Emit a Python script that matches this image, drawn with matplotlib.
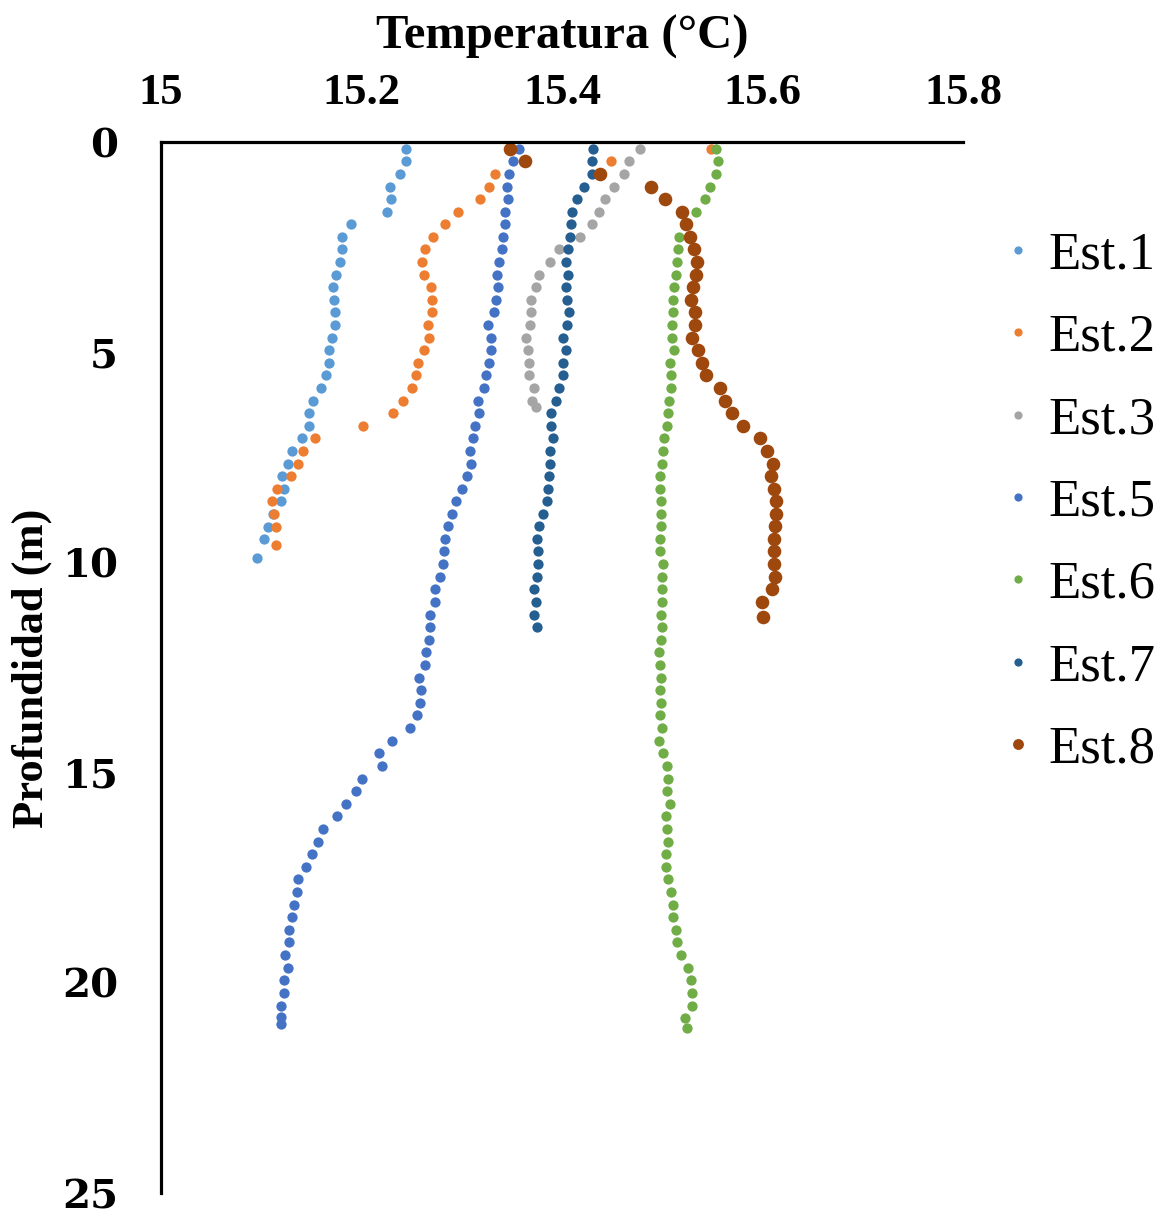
import matplotlib
matplotlib.use("Agg")
import matplotlib.pyplot as plt

# ---- data: depth (m) and temperature (°C) per station ----
est1_depth = [0.17, 0.46, 0.76, 1.06, 1.36, 1.66, 1.96, 2.25, 2.55, 2.86, 3.16, 3.45, 3.75, 4.05,
              4.35, 4.65, 4.95, 5.25, 5.55, 5.85, 6.15, 6.45, 6.75, 7.05, 7.35, 7.65, 7.95, 8.25,
              8.54, 8.84, 9.15, 9.45, 9.89]
est1_temp = [15.244, 15.244, 15.238, 15.228, 15.229, 15.225, 15.189, 15.181, 15.181, 15.179, 15.175,
             15.172, 15.173, 15.174, 15.174, 15.171, 15.168, 15.168, 15.165, 15.160, 15.152, 15.148,
             15.148, 15.141, 15.131, 15.127, 15.121, 15.123, 15.120, 15.112, 15.107, 15.103, 15.096]

est2_depth = [0.17, 0.46, 0.76, 1.06, 1.36, 1.66, 1.96, 2.25, 2.55, 2.86, 3.16, 3.45, 3.75, 4.05,
              4.35, 4.65, 4.95, 5.25, 5.55, 5.85, 6.15, 6.45, 6.75, 7.05, 7.35, 7.65, 7.95, 8.25,
              8.54, 8.84, 9.15, 9.58]
est2_temp = [15.549, 15.449, 15.333, 15.327, 15.318, 15.296, 15.283, 15.271, 15.263, 15.260, 15.262,
             15.269, 15.270, 15.270, 15.266, 15.267, 15.262, 15.256, 15.254, 15.250, 15.241, 15.231,
             15.201, 15.154, 15.142, 15.137, 15.130, 15.116, 15.111, 15.113, 15.115, 15.115]

est3_depth = [0.17, 0.46, 0.76, 1.06, 1.36, 1.66, 1.96, 2.25, 2.55, 2.86, 3.16, 3.45, 3.75, 4.05,
              4.35, 4.65, 4.95, 5.25, 5.55, 5.85, 6.15, 6.31]
est3_temp = [15.478, 15.467, 15.462, 15.452, 15.443, 15.437, 15.430, 15.418, 15.397, 15.388, 15.377,
             15.374, 15.369, 15.369, 15.368, 15.364, 15.366, 15.367, 15.367, 15.372, 15.370, 15.374]

est5_depth = [0.17, 0.46, 0.76, 1.06, 1.36, 1.66, 1.96, 2.25, 2.55, 2.86, 3.16, 3.45, 3.75, 4.05,
              4.35, 4.65, 4.95, 5.25, 5.55, 5.85, 6.15, 6.45, 6.75, 7.05, 7.35, 7.65, 7.95, 8.25,
              8.54, 8.84, 9.14, 9.44, 9.74, 10.04, 10.34, 10.64, 10.94, 11.24, 11.54, 11.84, 12.14,
              12.44, 12.74, 13.04, 13.34, 13.64, 13.94, 14.24, 14.54, 14.84, 15.14, 15.44, 15.74,
              16.04, 16.34, 16.64, 16.94, 17.24, 17.54, 17.84, 18.14, 18.44, 18.74, 19.04, 19.34,
              19.64, 19.94, 20.24, 20.54, 20.81, 20.98]
est5_temp = [15.357, 15.351, 15.347, 15.345, 15.346, 15.343, 15.343, 15.341, 15.340, 15.337, 15.335,
             15.336, 15.334, 15.332, 15.326, 15.329, 15.329, 15.327, 15.324, 15.322, 15.316, 15.317,
             15.313, 15.311, 15.308, 15.309, 15.305, 15.300, 15.294, 15.290, 15.286, 15.283, 15.282,
             15.281, 15.278, 15.273, 15.273, 15.268, 15.268, 15.267, 15.264, 15.263, 15.257, 15.259,
             15.258, 15.255, 15.248, 15.230, 15.217, 15.220, 15.200, 15.194, 15.185, 15.176, 15.162,
             15.157, 15.151, 15.145, 15.137, 15.136, 15.133, 15.131, 15.128, 15.128, 15.124, 15.127,
             15.123, 15.123, 15.120, 15.120, 15.120]

est6_depth = [0.17, 0.46, 0.76, 1.06, 1.36, 1.66, 1.96, 2.25, 2.55, 2.86, 3.16, 3.45, 3.75, 4.05,
              4.35, 4.65, 4.95, 5.25, 5.55, 5.85, 6.15, 6.45, 6.75, 7.05, 7.35, 7.65, 7.95, 8.25,
              8.54, 8.84, 9.14, 9.44, 9.74, 10.04, 10.34, 10.64, 10.94, 11.24, 11.54, 11.84, 12.14,
              12.44, 12.74, 13.04, 13.34, 13.64, 13.94, 14.24, 14.54, 14.84, 15.14, 15.44, 15.74,
              16.04, 16.34, 16.64, 16.94, 17.24, 17.54, 17.84, 18.14, 18.44, 18.74, 19.04, 19.34,
              19.64, 19.94, 20.24, 20.54, 20.84, 21.07]
est6_temp = [15.554, 15.556, 15.554, 15.548, 15.543, 15.534, 15.524, 15.517, 15.516, 15.515, 15.514,
             15.512, 15.511, 15.511, 15.510, 15.510, 15.512, 15.508, 15.509, 15.509, 15.507, 15.506,
             15.505, 15.502, 15.501, 15.500, 15.498, 15.498, 15.499, 15.499, 15.499, 15.498, 15.498,
             15.501, 15.500, 15.500, 15.500, 15.499, 15.500, 15.499, 15.497, 15.498, 15.499, 15.498,
             15.499, 15.498, 15.500, 15.497, 15.501, 15.505, 15.506, 15.505, 15.508, 15.504, 15.505,
             15.506, 15.504, 15.504, 15.506, 15.509, 15.511, 15.511, 15.514, 15.515, 15.519, 15.526,
             15.529, 15.530, 15.530, 15.523, 15.525]

est7_depth = [0.17, 0.46, 0.76, 1.06, 1.36, 1.66, 1.96, 2.25, 2.55, 2.86, 3.16, 3.45, 3.75, 4.05,
              4.35, 4.65, 4.95, 5.25, 5.55, 5.85, 6.15, 6.45, 6.75, 7.05, 7.35, 7.65, 7.95, 8.25,
              8.54, 8.84, 9.14, 9.44, 9.74, 10.04, 10.34, 10.64, 10.94, 11.24, 11.54]
est7_temp = [15.431, 15.430, 15.430, 15.422, 15.415, 15.410, 15.409, 15.408, 15.406, 15.404, 15.406,
             15.404, 15.405, 15.407, 15.405, 15.401, 15.404, 15.401, 15.401, 15.397, 15.394, 15.389,
             15.389, 15.391, 15.388, 15.388, 15.387, 15.386, 15.385, 15.381, 15.377, 15.375, 15.376,
             15.376, 15.375, 15.372, 15.374, 15.372, 15.375]

est8_depth = [0.17, 0.46, 0.76, 1.06, 1.36, 1.66, 1.96, 2.25, 2.55, 2.86, 3.16, 3.45, 3.75, 4.05,
              4.35, 4.65, 4.95, 5.25, 5.55, 5.85, 6.15, 6.45, 6.75, 7.05, 7.35, 7.65, 7.95, 8.25,
              8.54, 8.84, 9.14, 9.44, 9.74, 10.04, 10.34, 10.64, 10.94, 11.29]
est8_temp = [15.348, 15.363, 15.438, 15.489, 15.503, 15.520, 15.524, 15.528, 15.532, 15.535, 15.534,
             15.531, 15.529, 15.533, 15.533, 15.530, 15.536, 15.540, 15.544, 15.558, 15.563, 15.570,
             15.581, 15.597, 15.604, 15.610, 15.608, 15.611, 15.613, 15.613, 15.612, 15.611, 15.611,
             15.611, 15.612, 15.609, 15.599, 15.600]

station_names = ["Est.1", "Est.2", "Est.3", "Est.5", "Est.6", "Est.7", "Est.8"]
station_colors = ["#5B9BD5", "#ED7D31", "#A5A5A5", "#4472C4", "#70AD47", "#255E91", "#9E480E"]

x_ticks = [15.0, 15.2, 15.4, 15.6, 15.8]
x_tick_labels = ["15", "15.2", "15.4", "15.6", "15.8"]
y_ticks = [0, 5, 10, 15, 20, 25]
y_tick_labels = ["0", "5", "10", "15", "20", "25"]

# ---- figure ----
fig = plt.figure(figsize=(11.72, 12.18), dpi=100)
ax = fig.add_axes([0.1374, 0.0205, 0.8217 - 0.1374, 0.8834 - 0.0205])

series = [(est1_temp, est1_depth), (est2_temp, est2_depth), (est3_temp, est3_depth),
          (est5_temp, est5_depth), (est6_temp, est6_depth), (est7_temp, est7_depth),
          (est8_temp, est8_depth)]
for (temps, depths), name, color in zip(series, station_names, station_colors):
    size = 9.8 if name == "Est.8" else 7.4
    ax.plot(temps, depths, linestyle="none", marker="o", markersize=size,
            markerfacecolor=color, markeredgewidth=0, label=name, clip_on=False)

ax.set_xlim(15.0, 15.8)
ax.set_ylim(25, 0)
ax.xaxis.tick_top()
ax.set_xticks(x_ticks)
ax.set_xticklabels(x_tick_labels, fontfamily="Liberation Serif", fontweight="bold", fontsize=32)
ax.set_yticks(y_ticks)
ax.set_yticklabels(y_tick_labels, fontfamily="DejaVu Serif", fontweight="bold", fontsize=29)
ax.tick_params(axis="x", length=0, pad=21)
ax.tick_params(axis="y", length=0, pad=31)

for side in ("right", "bottom"):
    ax.spines[side].set_visible(False)
for side in ("left", "top"):
    ax.spines[side].set_linewidth(2.3)
    ax.spines[side].set_color("black")

fig.text(0.4795, 0.970, "Temperatura (°C)", ha="center", va="center",
         fontfamily="Liberation Serif", fontweight="bold", fontsize=35)
fig.text(0.027, 0.451, "Profundidad (m)", ha="center", va="center", rotation=90,
         fontfamily="Liberation Serif", fontweight="bold", fontsize=32)

leg = fig.legend(loc="center left", bbox_to_anchor=(0.8575, 0.5874),
                 frameon=False, prop={"family": "Liberation Serif", "size": 38},
                 handlelength=0.5, handletextpad=0.32, labelspacing=0.65,
                 borderpad=0, borderaxespad=0, markerscale=0.8)

fig.savefig("out.png", dpi=100)
